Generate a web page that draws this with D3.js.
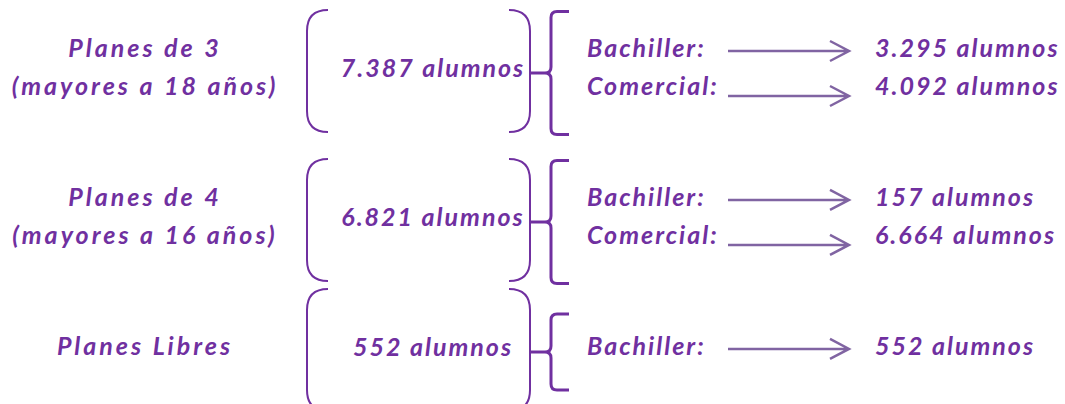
<!DOCTYPE html>
<html>
<head>
<meta charset="utf-8">
<script src="https://cdn.jsdelivr.net/npm/d3@7"></script>
<style>
  body { margin: 0; background: #fff; }
  text { font-family: Lato, "Open Sans", sans-serif; font-weight: bold; font-style: italic; letter-spacing: 2px; }
  text.left-label { letter-spacing: 3px; }
</style>
</head>
<body>
<div id="chart"></div>
<script>
// data
let groupLabels = [["Planes de 3", "(mayores a 18 años)"], ["Planes de 4", "(mayores a 16 años)"], ["Planes Libres"]];
let groupTotals = [7387, 6821, 552];
let subCategories = [["Bachiller", "Comercial"], ["Bachiller", "Comercial"], ["Bachiller"]];
let subValues = [[3295, 4092], [157, 6664], [552]];

function main(){
    let width = 1065;
    let height = 404;
    let textColor = "#7030a0";
    let arrowColor = "#8064a2";
    let fontSize = 25;

    let es = d3.formatLocale({decimal: ",", thousands: ".", grouping: [3], currency: ["", "€"]});
    let fmt = es.format(",d");

    let svg = d3.select("#chart").append("svg")
        .attr("width", width)
        .attr("height", height);

    // every row gets one slot, every group adds a gap of ~1.92 slots
    let gap = 1.92;
    let rows = [];
    let groups = [];
    let slot = 0;
    subCategories.forEach(function(cats, g){
        let first = slot;
        cats.forEach(function(c, i){
            rows.push({group: g, index: i, name: c, value: subValues[g][i], slot: slot});
            slot += 1;
        });
        groups.push({index: g, labels: groupLabels[g], total: groupTotals[g], first: first, last: slot - 1});
        slot += gap;
    });

    let yScale = d3.scaleLinear().domain([0, 1]).range([57, 95]);
    let xScale = d3.scaleOrdinal()
        .domain(["label", "paren0", "total", "paren1", "brace", "sub", "arrow0", "arrow1", "value"])
        .range([145, 307, 433, 530, 551, 587, 728, 849, 875]);

    groups.forEach(function(g){
        g.base = (yScale(g.first) + yScale(g.last)) / 2;
        g.nrows = g.last - g.first + 1;
    });

    // left labels
    let left = svg.append("g");
    groups.forEach(function(g){
        g.labels.forEach(function(t, i){
            left.append("text")
                .attr("class", "left-label")
                .attr("x", xScale("label"))
                .attr("y", yScale(g.first + i))
                .attr("text-anchor", "middle")
                .attr("font-size", fontSize)
                .attr("fill", textColor)
                .text(t);
        });
    });

    // round brackets around totals
    let r = 21;
    let half = 61;
    svg.append("g").selectAll("path")
        .data(groups)
        .enter()
        .append("path")
        .attr("d", function(d){
            let c = d.base - 5;
            let t = c - half, b = c + half;
            let x0 = xScale("paren0"), x1 = xScale("paren1");
            return "M" + (x0 + r) + "," + t + " Q" + x0 + "," + t + " " + x0 + "," + (t + r)
                + " L" + x0 + "," + (b - r) + " Q" + x0 + "," + b + " " + (x0 + r) + "," + b
                + " M" + (x1 - r) + "," + t + " Q" + x1 + "," + t + " " + x1 + "," + (t + r)
                + " L" + x1 + "," + (b - r) + " Q" + x1 + "," + b + " " + (x1 - r) + "," + b;
        })
        .attr("fill", "none")
        .attr("stroke", textColor)
        .attr("stroke-width", 2);

    // totals
    svg.append("g").selectAll("text")
        .data(groups)
        .enter()
        .append("text")
        .attr("x", xScale("total"))
        .attr("y", function(d){ return d.base + 1; })
        .attr("text-anchor", "middle")
        .attr("font-size", fontSize)
        .attr("fill", textColor)
        .text(function(d){ return fmt(d.total) + " alumnos"; });

    // curly braces
    svg.append("g").selectAll("path")
        .data(groups)
        .enter()
        .append("path")
        .attr("d", function(d){
            let m = d.base - 3;
            let h = d.nrows * 23.5 + 14.5;
            let t = m - h, b = m + h;
            let cx = xScale("brace"), tip = xScale("paren1"), end = 569;
            return "M" + end + "," + t + " L" + (cx + 6) + "," + t + " Q" + cx + "," + t + " " + cx + "," + (t + 6)
                + " L" + cx + "," + (m - 6) + " Q" + cx + "," + m + " " + (cx - 6) + "," + m
                + " L" + tip + "," + m
                + " M" + (cx - 6) + "," + m + " Q" + cx + "," + m + " " + cx + "," + (m + 6)
                + " L" + cx + "," + (b - 6) + " Q" + cx + "," + b + " " + (cx + 6) + "," + b
                + " L" + end + "," + b;
        })
        .attr("fill", "none")
        .attr("stroke", textColor)
        .attr("stroke-width", 3);

    // sub rows
    let rowG = svg.append("g").selectAll("g")
        .data(rows)
        .enter()
        .append("g");

    rowG.append("text")
        .attr("x", xScale("sub"))
        .attr("y", function(d){ return yScale(d.slot); })
        .attr("font-size", fontSize)
        .attr("fill", textColor)
        .text(function(d){ return d.name + ":"; });

    rowG.append("text")
        .attr("x", xScale("value"))
        .attr("y", function(d){ return yScale(d.slot); })
        .attr("font-size", fontSize)
        .attr("fill", textColor)
        .text(function(d){ return fmt(d.value) + " alumnos"; });

    // arrows
    rowG.append("path")
        .attr("d", function(d){
            let y = yScale(d.slot) - 6 + 7 * d.index;
            let x0 = xScale("arrow0"), x1 = xScale("arrow1");
            return "M" + x0 + "," + y + " L" + x1 + "," + y
                + " M" + (x1 - 19) + "," + (y - 10) + " L" + x1 + "," + y + " L" + (x1 - 19) + "," + (y + 10);
        })
        .attr("fill", "none")
        .attr("stroke", arrowColor)
        .attr("stroke-width", 2.5);
}

main();
</script>
</body>
</html>
